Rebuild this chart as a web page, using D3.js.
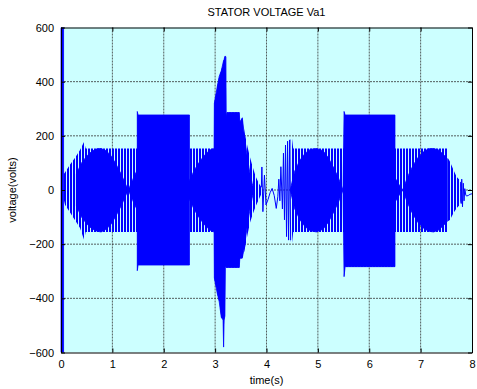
<!DOCTYPE html>
<html>
<head>
<meta charset="utf-8">
<script src="https://cdn.jsdelivr.net/npm/d3@7"></script>
<style>
  body { margin: 0; background: #fff; }
  text { font-family: Arial, "Liberation Sans", sans-serif; }
</style>
</head>
<body>
<div id="chart"></div>
<script>
// tick labels
var xTicks = [0, 1, 2, 3, 4, 5, 6, 7, 8];
var yTicks = [-600, -400, -200, 0, 200, 400, 600];

// outer envelope of the signal (striped oscillation), null = gap
var envTime  = [0.04, 0.08, 0.17, 0.27, 0.37, 0.45, 0.48, 1.485, 1.485, 1.50, 2.50, 2.50, 2.98,
                2.985, 3.04, 3.08, 3.12, 3.155, 3.165, 3.175, 3.19, 3.20, 3.21, 3.215, 3.23, 3.47, 3.48, 3.53, 3.57, 3.63, 3.68, 3.73, 3.79, 3.85, 3.90,
                3.95,
                4.47, 4.49, 4.52, 5.51, 5.51, 5.53, 6.50, 6.50, 7.52, 7.53, 7.57, 7.64, 7.70, 7.76, 7.78];
var envUpper = [55, 66, 92, 118, 148, 178, 153, 153, 290, 277, 277, 153, 153,
                320, 380, 420, 440, 470, 478, 482, 493, 495, 490, 265, 286, 286, 252, 270, 215, 160, 120, 86, 50, 25, 10,
                null,
                185, 200, 153, 153, 290, 277, 277, 153, 153, 118, 105, 74, 49, 37, 20];
var envLower = [-25, -55, -81, -111, -140, -185, -155, -155, -298, -277, -277, -155, -155,
                -325, -380, -413, -470, -480, -580, -480, -465, -280, -284, -286, -286, -286, -253, -253, -225, -165, -120, -90, -60, -35, -15,
                null,
                -185, -207, -155, -155, -320, -283, -283, -155, -155, -115, -111, -85, -67, -55, -40];

// solid (dense) parts: start spike, lenses, 280 V blocks, transient
var denseTime  = [0, 0.05, 0.06,
                  0.30, 0.40, 0.50, 0.60, 0.70, 0.78, 0.88, 0.98, 1.08, 1.18, 1.26, 1.31, 1.40, 1.485,
                  1.485, 1.50, 2.50, 2.50, 2.60, 2.70, 2.80, 2.90, 2.98,
                  2.985, 3.04, 3.08, 3.12, 3.155, 3.165, 3.175, 3.19, 3.20, 3.21, 3.215, 3.23, 3.47, 3.48, 3.53, 3.57, 3.62, 3.67, 3.72, 3.76, 3.77,
                  4.46, 4.55, 4.65, 4.75, 4.85, 4.97, 5.10, 5.20, 5.30, 5.40, 5.49,
                  5.51, 5.53, 6.50, 6.50, 6.58, 6.65, 6.75, 6.85, 6.95, 7.05, 7.15, 7.25, 7.35, 7.45, 7.52];
var denseUpper = [600, 600, null,
                  60, 100, 125, 143, 152, 153, 145, 125, 92, 55, 20, 0, 40, 75,
                  290, 277, 277, 35, 75, 105, 130, 148, 153,
                  320, 380, 420, 440, 470, 478, 482, 493, 495, 490, 265, 286, 286, 252, 265, 200, 130, 70, 25, 0, null,
                  0, 70, 110, 135, 150, 153, 145, 120, 85, 45, 0,
                  290, 277, 277, 45, 20, 0, 50, 90, 120, 140, 152, 153, 148, 130, 115];
var denseLower = [-600, -600, null,
                  -60, -100, -125, -143, -152, -155, -145, -125, -92, -55, -20, 0, -40, -75,
                  -298, -277, -277, -35, -75, -105, -130, -148, -155,
                  -325, -380, -413, -470, -480, -580, -480, -465, -280, -284, -286, -286, -286, -253, -250, -210, -140, -80, -30, 0, null,
                  0, -70, -110, -135, -150, -155, -145, -120, -85, -45, 0,
                  -320, -283, -283, -45, -20, 0, -50, -90, -120, -140, -152, -155, -148, -130, -115];

// low amplitude parts drawn as a plain line
var wiggleTime  = [3.90, 3.91, 3.93, 3.96, 3.99, 4.03, 4.07, 4.11, 4.15, 4.19, 4.22, 4.24, 4.26, 4.28, 4.31, 4.33, 4.35, 4.37, 4.39, 4.41, 4.43, 4.45, 4.47];
var wiggleValue = [10, 85, -80, 55, -55, -35, -10, 6, -20, -68, -25, 40, -40, 86, -70, 136, -110, 166, -172, 180, -185, 185, -185];
var tailTime  = [7.78, 7.79, 7.80, 7.815, 7.83, 7.845, 7.86, 7.88, 7.90, 7.93, 7.96, 8.0];
var tailValue = [30, -50, 40, -62, 25, -40, 5, -20, -22, -20, -16, -14];

var margin = { top: 27.5, right: 5, bottom: 36.5, left: 61 };
var W = 477, H = 389;
var width = W - margin.left - margin.right;
var height = H - margin.top - margin.bottom;

var x = d3.scaleLinear().domain([0, 8]).range([0, width]);
var y = d3.scaleLinear().domain([-600, 600]).range([height, 0]);

var svg = d3.select("#chart").append("svg")
    .attr("width", W)
    .attr("height", H);

var defs = svg.append("defs");
defs.append("clipPath").attr("id", "clip")
    .append("rect").attr("x", -2).attr("y", 0).attr("width", width + 2).attr("height", height);
var pat = defs.append("pattern").attr("id", "stripes")
    .attr("patternUnits", "userSpaceOnUse")
    .attr("width", 3).attr("height", 10);
pat.append("rect").attr("x", 0).attr("y", 0).attr("width", 2).attr("height", 10).attr("fill", "#0000ff");

var g = svg.append("g")
    .attr("transform", "translate(" + margin.left + "," + margin.top + ")");

// background
g.append("rect").attr("width", width).attr("height", height).attr("fill", "#ccffff");

// grid
g.selectAll(".gx").data(xTicks.slice(1, -1)).enter().append("line")
    .attr("x1", function (d) { return x(d); }).attr("x2", function (d) { return x(d); })
    .attr("y1", 0).attr("y2", height)
    .attr("stroke", "#333").attr("stroke-dasharray", "2,1").attr("stroke-width", 0.8);
g.selectAll(".gy").data(yTicks.slice(1, -1)).enter().append("line")
    .attr("y1", function (d) { return y(d); }).attr("y2", function (d) { return y(d); })
    .attr("x1", 0).attr("x2", width)
    .attr("stroke", "#333").attr("stroke-dasharray", "2,1").attr("stroke-width", 0.8);

function rows(ts, hi, lo) {
    return ts.map(function (t, i) { return { t: t, hi: hi[i], lo: lo[i] }; });
}

var area = d3.area()
    .defined(function (d) { return d.hi != null; })
    .x(function (d) { return x(d.t); })
    .y0(function (d) { return y(d.lo); })
    .y1(function (d) { return y(d.hi); });

var plot = g.append("g").attr("clip-path", "url(#clip)");

plot.append("path")
    .datum(rows(envTime, envUpper, envLower))
    .attr("d", area)
    .attr("fill", "url(#stripes)");

plot.append("path")
    .datum(rows(denseTime, denseUpper, denseLower))
    .attr("d", area)
    .attr("fill", "#0000ff")
    .attr("stroke", "#0000ff")
    .attr("stroke-width", 0.8);

var line = d3.line()
    .x(function (d) { return x(d.t); })
    .y(function (d) { return y(d.v); });

[[wiggleTime, wiggleValue], [tailTime, tailValue]].forEach(function (s) {
    plot.append("path")
        .datum(s[0].map(function (t, i) { return { t: t, v: s[1][i] }; }))
        .attr("d", line)
        .attr("fill", "none")
        .attr("stroke", "#0000ff")
        .attr("stroke-width", 1);
});

// axes, ticks pointing inward
var xb = g.append("g").attr("transform", "translate(0," + height + ")")
    .call(d3.axisBottom(x).tickValues(xTicks).tickSizeInner(-4).tickSizeOuter(0).tickPadding(8));
var xt = g.append("g")
    .call(d3.axisTop(x).tickValues(xTicks).tickSizeInner(-4).tickSizeOuter(0).tickFormat(""));
var yl = g.append("g")
    .call(d3.axisLeft(y).tickValues(yTicks).tickSizeInner(-4).tickSizeOuter(0).tickPadding(7));
var yr = g.append("g").attr("transform", "translate(" + width + ",0)")
    .call(d3.axisRight(y).tickValues(yTicks).tickSizeInner(-4).tickSizeOuter(0).tickFormat(""));

[xb, xt, yl, yr].forEach(function (a) {
    a.select(".domain").attr("stroke", "#000");
    a.selectAll("line").attr("stroke", "#000");
    a.selectAll("text").attr("fill", "#000").style("font-size", "11px");
});

svg.append("text")
    .attr("x", margin.left + width / 2).attr("y", 16)
    .attr("text-anchor", "middle")
    .style("font-size", "11px")
    .text("STATOR VOLTAGE Va1");

svg.append("text")
    .attr("x", margin.left + width / 2).attr("y", 384)
    .attr("text-anchor", "middle")
    .style("font-size", "11px")
    .text("time(s)");

svg.append("text")
    .attr("transform", "translate(16," + (margin.top + height / 2) + ") rotate(-90)")
    .attr("text-anchor", "middle")
    .style("font-size", "11px")
    .text("voltage(volts)");
</script>
</body>
</html>
